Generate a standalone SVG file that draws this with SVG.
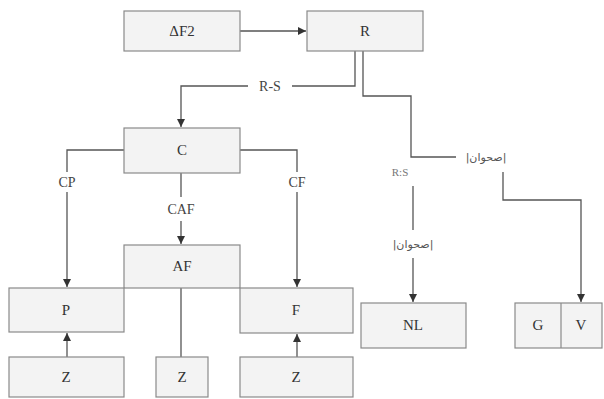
<svg xmlns="http://www.w3.org/2000/svg" width="604" height="399" viewBox="0 0 604 399">
<style>
.box{fill:#f3f3f3;stroke:#8a8a8a;stroke-width:1.2}
.t{font-family:'Liberation Serif','DejaVu Serif',serif;font-size:15px;fill:#333;text-anchor:middle;dominant-baseline:central}
.lbl{font-family:'Liberation Serif','DejaVu Serif',serif;font-size:14px;fill:#444;text-anchor:middle;dominant-baseline:central}
.ar{font-family:'DejaVu Sans','Noto Sans',sans-serif;font-size:11px;fill:#555;text-anchor:middle;dominant-baseline:central}
.c{fill:none;stroke:#555;stroke-width:1.3}
</style>
<defs>
<marker id="ah" viewBox="0 0 10 10" refX="10" refY="5" markerWidth="9" markerHeight="8" markerUnits="userSpaceOnUse" orient="auto">
<path d="M0,0 L10,5 L0,10 z" fill="#333"/>
</marker>
</defs>
<rect width="604" height="399" fill="#fff"/>
<g id="connectors">
<path class="c" d="M240,31 H306" marker-end="url(#ah)"/>
<path class="c" d="M355,51 V86 H292 M248,86 H181 V127" marker-end="url(#ah)"/>
<path class="c" d="M363,51 V96 H411 V157 H456"/>
<path class="c" d="M413,186 V230"/>
<path class="c" d="M413,258 V302" marker-end="url(#ah)"/>
<path class="c" d="M503,172 V200 H581 V302" marker-end="url(#ah)"/>
<path class="c" d="M124,150 H67 V172"/>
<path class="c" d="M67,192 V287" marker-end="url(#ah)"/>
<path class="c" d="M240,150 H297 V172"/>
<path class="c" d="M297,192 V287" marker-end="url(#ah)"/>
<path class="c" d="M181,173 V197"/>
<path class="c" d="M181,221 V244" marker-end="url(#ah)"/>
<path class="c" d="M181,288 V357"/>
<path class="c" d="M67,357 V333" marker-end="url(#ah)"/>
<path class="c" d="M297,357 V334" marker-end="url(#ah)"/>
<text class="lbl" x="270" y="86" font-family="Liberation Serif, serif">R-S</text>
<text class="ar" x="486" y="157">|صحوان|</text>
<text class="lbl" x="400" y="172" font-family="Liberation Serif, serif" style="font-size:11px;fill:#777">R:S</text>
<text class="ar" x="413" y="244">|صحوان|</text>
<text class="lbl" x="67" y="182" font-family="Liberation Serif, serif">CP</text>
<text class="lbl" x="297" y="182" font-family="Liberation Serif, serif">CF</text>
<text class="lbl" x="181" y="209" font-family="Liberation Serif, serif">CAF</text>
</g>
<g id="dF2"><rect class="box" x="124" y="11" width="116" height="40"/><text class="t" x="182" y="31" font-family="Liberation Serif, serif">ΔF2</text></g>
<g id="R"><rect class="box" x="307" y="11" width="116" height="40"/><text class="t" x="365" y="31" font-family="Liberation Serif, serif">R</text></g>
<g id="C"><rect class="box" x="124" y="128" width="116" height="45"/><text class="t" x="182" y="150" font-family="Liberation Serif, serif">C</text></g>
<g id="AF"><rect class="box" x="124" y="245" width="116" height="43"/><text class="t" x="182" y="266" font-family="Liberation Serif, serif">AF</text></g>
<g id="P"><rect class="box" x="9" y="288" width="115" height="44"/><text class="t" x="66" y="310" font-family="Liberation Serif, serif">P</text></g>
<g id="F"><rect class="box" x="240" y="288" width="113" height="45"/><text class="t" x="296" y="310" font-family="Liberation Serif, serif">F</text></g>
<g id="Z1"><rect class="box" x="9" y="357" width="115" height="40"/><text class="t" x="66" y="377" font-family="Liberation Serif, serif">Z</text></g>
<g id="Z2"><rect class="box" x="156" y="357" width="52" height="40"/><text class="t" x="182" y="377" font-family="Liberation Serif, serif">Z</text></g>
<g id="Z3"><rect class="box" x="240" y="357" width="113" height="40"/><text class="t" x="296" y="377" font-family="Liberation Serif, serif">Z</text></g>
<g id="NL"><rect class="box" x="361" y="303" width="105" height="45"/><text class="t" x="413" y="325" font-family="Liberation Serif, serif">NL</text></g>
<g id="GV"><rect class="box" x="515" y="303" width="87" height="45"/><line x1="561" y1="303" x2="561" y2="348" stroke="#8a8a8a" stroke-width="1.2"/><text class="t" x="538" y="325" font-family="Liberation Serif, serif">G</text><text class="t" x="581" y="325" font-family="Liberation Serif, serif">V</text></g>
</svg>
